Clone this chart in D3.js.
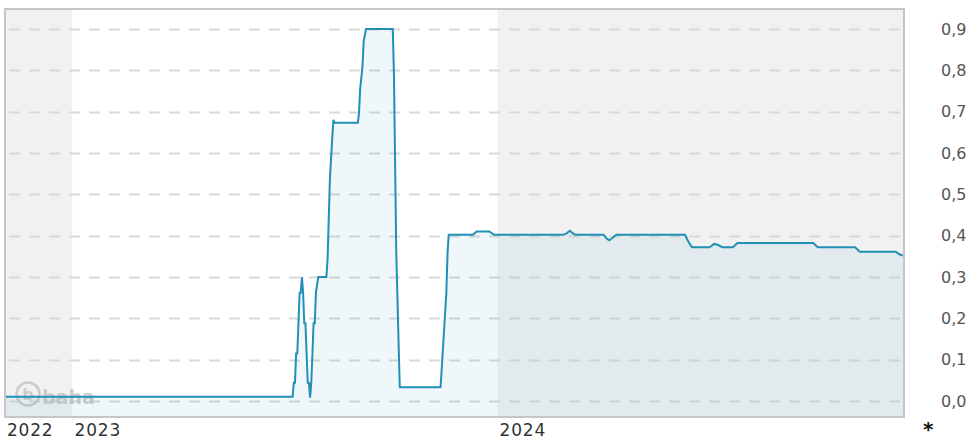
<!DOCTYPE html>
<html>
<head>
<meta charset="utf-8">
<script src="https://cdn.jsdelivr.net/npm/d3@7/dist/d3.min.js"></script>
<style>
  html, body { margin: 0; padding: 0; background: #ffffff; }
  svg { display: block; }
</style>
</head>
<body>
<svg id="chart" width="974" height="441"></svg>
<script>
// Daily closing values (EUR)
const dates = [
  "2022-11-04", "2023-07-09", "2023-07-10", "2023-07-11", "2023-07-12", "2023-07-13",
  "2023-07-14", "2023-07-15", "2023-07-16", "2023-07-17", "2023-07-18", "2023-07-19",
  "2023-07-20", "2023-07-21", "2023-07-22", "2023-07-23", "2023-07-24", "2023-07-25",
  "2023-07-26", "2023-07-27", "2023-07-28", "2023-07-29", "2023-07-31", "2023-08-07",
  "2023-08-08", "2023-08-09", "2023-08-10", "2023-08-12", "2023-08-13", "2023-08-14",
  "2023-09-03", "2023-09-04", "2023-09-05", "2023-09-07", "2023-09-08", "2023-09-10",
  "2023-10-03", "2023-10-04", "2023-10-05", "2023-10-06", "2023-10-08", "2023-10-09",
  "2023-11-13", "2023-11-14", "2023-11-16", "2023-11-18", "2023-11-19", "2023-11-20",
  "2023-12-11", "2023-12-14", "2023-12-25", "2023-12-29", "2024-02-26", "2024-02-29",
  "2024-03-03", "2024-03-06", "2024-03-08", "2024-04-01", "2024-04-04", "2024-04-06",
  "2024-04-08", "2024-04-12", "2024-06-10", "2024-06-12", "2024-06-14", "2024-06-16",
  "2024-07-01", "2024-07-05", "2024-07-08", "2024-07-12", "2024-07-21", "2024-07-25",
  "2024-09-28", "2024-10-02", "2024-11-03", "2024-11-07", "2024-12-08", "2024-12-11",
  "2024-12-14"
];
const values = [
  0.010, 0.010, 0.044, 0.044, 0.115, 0.115,
  0.188, 0.262, 0.262, 0.300, 0.262, 0.188,
  0.188, 0.115, 0.044, 0.044, 0.008, 0.044,
  0.115, 0.188, 0.188, 0.262, 0.300, 0.300,
  0.343, 0.440, 0.537, 0.636, 0.680, 0.673,
  0.673, 0.697, 0.755, 0.810, 0.870, 0.900,
  0.900, 0.790, 0.575, 0.360, 0.140, 0.033,
  0.033, 0.077, 0.170, 0.262, 0.356, 0.402,
  0.402, 0.410, 0.410, 0.402, 0.402, 0.405,
  0.412, 0.405, 0.402, 0.402, 0.392, 0.389,
  0.393, 0.402, 0.402, 0.390, 0.380, 0.372,
  0.372, 0.380, 0.378, 0.372, 0.372, 0.382,
  0.382, 0.372, 0.372, 0.361, 0.361, 0.355,
  0.352
];

// Calendar years shown as alternating bands, and the y ticks
const years = [2022, 2023, 2024];
const yTicks = [0.0, 0.1, 0.2, 0.3, 0.4, 0.5, 0.6, 0.7, 0.8, 0.9];
const domainStart = "2022-11-04";
const domainEnd = "2024-12-15";

const parse = d3.utcParse("%Y-%m-%d");
const series = dates.map((d, i) => ({ date: parse(d), value: values[i] }));

const plot = { left: 5, right: 904, top: 9, bottom: 417 };
const svg = d3.select("#chart");

const x = d3.scaleUtc()
  .domain([parse(domainStart), parse(domainEnd)])
  .range([plot.left, plot.right]);

const y = d3.scaleLinear()
  .domain([0, 0.9])
  .range([401, 29]);

const deLocale = d3.formatLocale({ decimal: ",", thousands: ".", grouping: [3], currency: ["", " €"] });
const fmt = deLocale.format(".1f");

// Year bands: alternate years shaded grey
years.forEach((yr, i) => {
  const x0 = Math.max(x(new Date(Date.UTC(yr, 0, 1))), plot.left);
  const x1 = Math.min(x(new Date(Date.UTC(yr + 1, 0, 1))), plot.right);
  if (x1 <= x0) return;
  svg.append("rect")
    .attr("x", x0).attr("y", plot.top)
    .attr("width", x1 - x0).attr("height", plot.bottom - plot.top)
    .attr("fill", i % 2 === 0 ? "#f1f1f1" : "#ffffff");
});

// Horizontal dashed grid
svg.append("g")
  .selectAll("line")
  .data(yTicks)
  .join("line")
  .attr("x1", plot.left + 2).attr("x2", plot.right - 2)
  .attr("y1", d => Math.round(y(d)) + 0.5).attr("y2", d => Math.round(y(d)) + 0.5)
  .attr("stroke", "#d9d9d9")
  .attr("stroke-width", 2)
  .attr("stroke-dasharray", "11,9")
  .attr("stroke-dashoffset", -2);

// Watermark
const wm = svg.append("g").attr("opacity", 0.8);
wm.append("circle")
  .attr("cx", 28).attr("cy", 394).attr("r", 11.5)
  .attr("fill", "none").attr("stroke", "#c4c4c4").attr("stroke-width", 2.5);
wm.append("text")
  .attr("x", 28).attr("y", 400)
  .attr("text-anchor", "middle")
  .attr("font-family", "DejaVu Sans, sans-serif")
  .attr("font-weight", "bold").attr("font-size", 16)
  .attr("fill", "#c4c4c4").text("b");
wm.append("text")
  .attr("x", 42).attr("y", 404)
  .attr("font-family", "DejaVu Sans, sans-serif")
  .attr("font-weight", "bold").attr("font-size", 19)
  .attr("fill", "#c4c4c4").text("baha");

// Area under the line, down to the plot floor
const area = d3.area()
  .x(d => x(d.date))
  .y0(plot.bottom)
  .y1(d => y(d.value));
svg.append("path")
  .datum(series)
  .attr("d", area)
  .attr("fill", "#1f8ab3")
  .attr("fill-opacity", 0.07);

const line = d3.line()
  .x(d => x(d.date))
  .y(d => y(d.value));
svg.append("path")
  .datum(series)
  .attr("d", line)
  .attr("fill", "none")
  .attr("stroke", "#2290b6")
  .attr("stroke-width", 2)
  .attr("stroke-linejoin", "miter");

// Frame
svg.append("rect")
  .attr("x", plot.left).attr("y", plot.top)
  .attr("width", plot.right - plot.left).attr("height", plot.bottom - plot.top)
  .attr("fill", "none").attr("stroke", "#c6c6c6").attr("stroke-width", 2);

// Right-hand value axis
const yAxis = d3.axisRight(y).tickValues(yTicks).tickFormat(fmt).tickSize(0).tickPadding(0);
const yg = svg.append("g").attr("transform", "translate(941,0)").call(yAxis);
yg.select(".domain").remove();
yg.selectAll("text")
  .attr("font-family", "DejaVu Sans, sans-serif")
  .attr("font-size", 16)
  .attr("fill", "#555");

// Year labels, left aligned at the start of each year
const xg = svg.append("g");
years.forEach(yr => {
  const xs = Math.max(x(new Date(Date.UTC(yr, 0, 1))), plot.left);
  xg.append("text")
    .attr("x", xs + 2).attr("y", 436)
    .attr("font-family", "DejaVu Sans, sans-serif")
    .attr("font-size", 17)
    .attr("letter-spacing", 0.8)
    .attr("fill", "#333")
    .text(String(yr));
});

// Footnote marker
svg.append("text")
  .attr("x", 923).attr("y", 436)
  .attr("font-family", "DejaVu Sans, sans-serif")
  .attr("font-weight", "bold").attr("font-size", 20)
  .attr("fill", "#111").text("*");
</script>
</body>
</html>
